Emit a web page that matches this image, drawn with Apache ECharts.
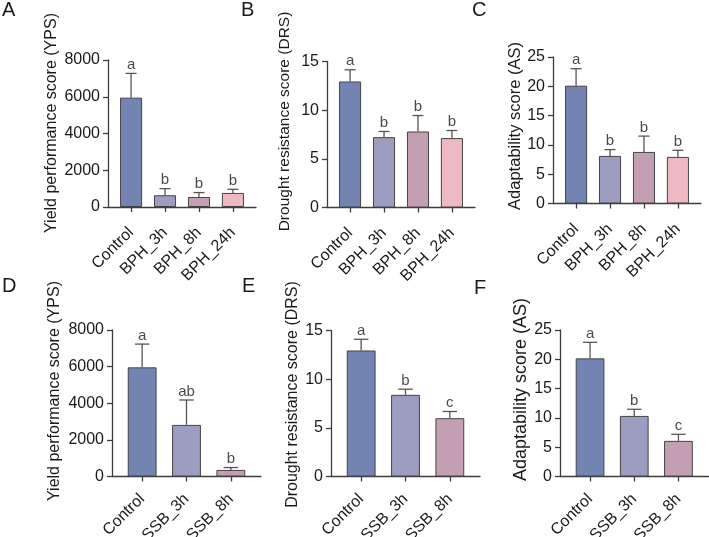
<!DOCTYPE html>
<html>
<head>
<meta charset="utf-8">
<script src="https://cdn.jsdelivr.net/npm/echarts@6/dist/echarts.min.js"></script>
<style>
  html, body { margin: 0; padding: 0; background: #fff; }
  #chart { width: 709px; height: 537px; }
</style>
</head>
<body>
<div id="chart"></div>
<script>
// groups
const bphGroups = ['Control', 'BPH_3h', 'BPH_8h', 'BPH_24h'];
const ssbGroups = ['Control', 'SSB_3h', 'SSB_8h'];

// A: yield performance score, BPH
const bphYpsMean = [5950, 640, 545, 765];
const bphYpsSd = [1320, 360, 240, 200];
const bphYpsSig = ['a', 'b', 'b', 'b'];
// B: drought resistance score, BPH
const bphDrsMean = [12.95, 7.23, 7.81, 7.13];
const bphDrsSd = [1.2, 0.58, 1.64, 0.78];
const bphDrsSig = ['a', 'b', 'b', 'b'];
// C: adaptability score, BPH
const bphAsMean = [20.1, 8.12, 8.8, 7.95];
const bphAsSd = [2.9, 1.08, 2.7, 1.13];
const bphAsSig = ['a', 'b', 'b', 'b'];
// D: yield performance score, SSB
const ssbYpsMean = [5960, 2818, 360];
const ssbYpsSd = [1270, 1360, 130];
const ssbYpsSig = ['a', 'ab', 'b'];
// E: drought resistance score, SSB
const ssbDrsMean = [12.95, 8.39, 5.99];
const ssbDrsSd = [1.15, 0.58, 0.69];
const ssbDrsSig = ['a', 'b', 'c'];
// F: adaptability score, SSB
const ssbAsMean = [20.16, 10.34, 6.08];
const ssbAsSd = [2.74, 1.13, 1.12];
const ssbAsSig = ['a', 'b', 'c'];

const barColors = ['#7384b3', '#9c9dc1', '#c49fb4', '#eeb9c2'];
const FONT = '"Liberation Sans", Arial, sans-serif';
const TXT = '#1a1a1a';
const AXIS = '#3d3d3d';

const panels = [
  {tag: 'A', groups: bphGroups, mean: bphYpsMean, sd: bphYpsSd, sig: bphYpsSig, max: 8000, step: 2000,
   title: 'Yield performance score (YPS)', box: [108, 60, 148, 147], tPos: [52, 123], tSize: 16, lPos: [2, 0], lm: 23},
  {tag: 'B', groups: bphGroups, mean: bphDrsMean, sd: bphDrsSd, sig: bphDrsSig, max: 15, step: 5,
   title: 'Drought resistance score (DRS)', box: [327, 61.5, 148, 146], tPos: [285, 121.5], tSize: 15.5, lPos: [241, 0], lm: 23},
  {tag: 'C', groups: bphGroups, mean: bphAsMean, sd: bphAsSd, sig: bphAsSig, max: 25, step: 5,
   title: 'Adaptability score (AS)', box: [553, 57, 148, 146.5], tPos: [515, 126], tSize: 16.5, lPos: [472, 0], lm: 23},
  {tag: 'D', groups: ssbGroups, mean: ssbYpsMean, sd: ssbYpsSd, sig: ssbYpsSig, max: 8000, step: 2000,
   title: 'Yield performance score (YPS)', box: [112, 330, 149, 146.5], tPos: [55, 391], tSize: 16, lPos: [2, 276], lm: 20},
  {tag: 'E', groups: ssbGroups, mean: ssbDrsMean, sd: ssbDrsSd, sig: ssbDrsSig, max: 15, step: 5,
   title: 'Drought resistance score (DRS)', box: [331, 330.5, 149, 146], tPos: [293, 394.5], tSize: 16, lPos: [242, 276], lm: 20},
  {tag: 'F', groups: ssbGroups, mean: ssbAsMean, sd: ssbAsSd, sig: ssbAsSig, max: 25, step: 5,
   title: 'Adaptability score (AS)', box: [560, 330, 148.5, 146.5], tPos: [521, 389.5], tSize: 18, lPos: [474, 278], lm: 20}
];

const PAD = 0.68;

const grid = [], xAxis = [], yAxis = [], series = [], graphic = [];

panels.forEach((p, k) => {
  const n = p.groups.length;
  const idx = p.groups.map((_, i) => i);
  const band = p.box[2] / (n - 1 + 2 * PAD);
  const barW = band * 0.65;
  const capW = barW * 0.5;

  grid.push({left: p.box[0], top: p.box[1], width: p.box[2], height: p.box[3], outerBoundsMode: 'none'});

  xAxis.push({
    gridIndex: k, type: 'value', min: -PAD, max: n - 1 + PAD,
    splitLine: {show: false},
    axisLine: {onZero: false, lineStyle: {color: AXIS, width: 1.3}},
    axisTick: {customValues: idx, length: 5, lineStyle: {color: AXIS, width: 1.3}},
    axisLabel: {
      customValues: idx, formatter: v => p.groups[Math.round(v)],
      rotate: 45, margin: p.lm, fontSize: 16, fontFamily: FONT, color: TXT
    }
  });

  yAxis.push({
    gridIndex: k, type: 'value', min: 0, max: p.max, interval: p.step,
    splitLine: {show: false},
    axisLine: {show: true, onZero: false, lineStyle: {color: AXIS, width: 1.3}},
    axisTick: {show: true, length: 5, lineStyle: {color: AXIS, width: 1.3}},
    axisLabel: {margin: 8, fontSize: 16, fontFamily: FONT, color: TXT, formatter: v => String(v)}
  });

  series.push({
    type: 'bar', xAxisIndex: k, yAxisIndex: k, barWidth: barW,
    itemStyle: {borderColor: '#444', borderWidth: 1},
    data: p.mean.map((v, i) => ({value: [i, v], itemStyle: {color: barColors[i]}}))
  });

  // upper error whiskers
  series.push({
    type: 'custom', xAxisIndex: k, yAxisIndex: k, z: 3,
    data: p.mean.map((v, i) => [i, v, v + p.sd[i]]),
    renderItem: (params, api) => {
      const i = api.value(0);
      const base = api.coord([i, api.value(1)]);
      const top = api.coord([i, api.value(2)]);
      const ln = {stroke: '#555', lineWidth: 1.3};
      return {
        type: 'group',
        children: [
          {type: 'line', shape: {x1: base[0], y1: base[1], x2: top[0], y2: top[1]}, style: ln},
          {type: 'line', shape: {x1: top[0] - capW / 2, y1: top[1], x2: top[0] + capW / 2, y2: top[1]}, style: ln}
        ]
      };
    }
  });

  // significance letters sit on top of the whiskers
  series.push({
    type: 'scatter', xAxisIndex: k, yAxisIndex: k, symbolSize: 0, z: 4,
    data: p.mean.map((v, i) => [i, v + p.sd[i]]),
    label: {
      show: true, position: 'top', distance: 1,
      formatter: d => p.sig[d.dataIndex],
      fontSize: 15, fontFamily: FONT, color: TXT
    }
  });

  graphic.push({
    type: 'text', x: p.lPos[0], y: p.lPos[1],
    style: {text: p.tag, fill: TXT, font: '20px ' + FONT, verticalAlign: 'top'}
  });
  graphic.push({
    type: 'text', x: p.tPos[0], y: p.tPos[1], rotation: Math.PI / 2,
    style: {text: p.title, fill: TXT, font: p.tSize + 'px ' + FONT, align: 'center', verticalAlign: 'middle'}
  });
});

const chart = echarts.init(document.getElementById('chart'));
chart.setOption({
  animation: false,
  backgroundColor: '#fff',
  grid, xAxis, yAxis, series, graphic
});
</script>
</body>
</html>
